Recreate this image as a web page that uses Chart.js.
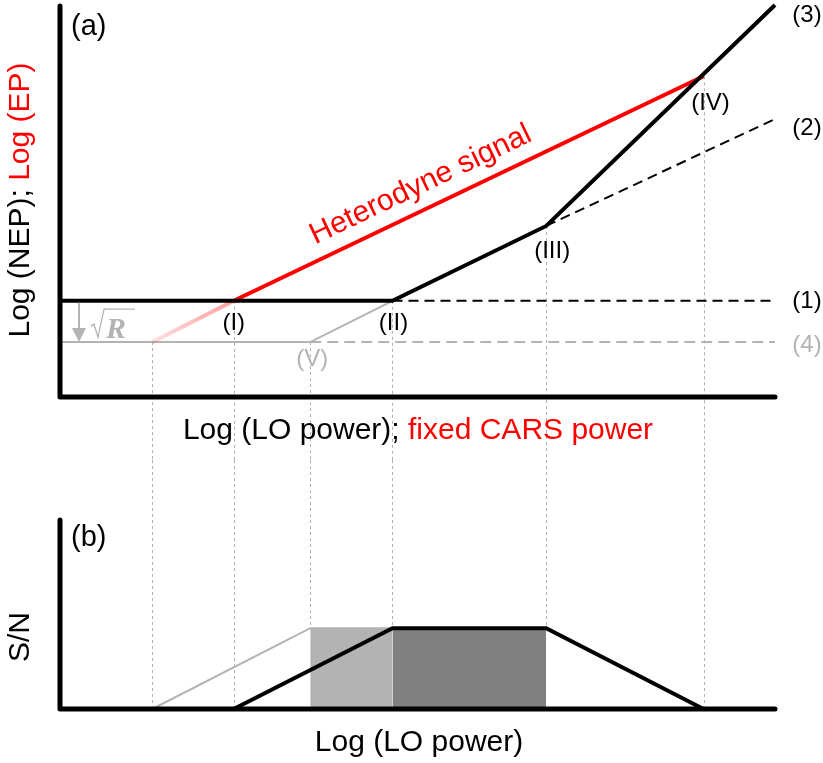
<!DOCTYPE html>
<html>
<head>
<meta charset="utf-8">
<script src="https://cdn.jsdelivr.net/npm/chart.js@4/dist/chart.umd.min.js"></script>
<style>
  html, body { margin: 0; padding: 0; background: #fff; }
  #wrap { position: relative; width: 823px; height: 763px; overflow: hidden; }
  #topChart { position: absolute; left: 0; top: 0; }
  #botChart { position: absolute; left: 0; top: 460px; }
</style>
</head>
<body>
<div id="wrap">
  <canvas id="topChart" width="823" height="460"></canvas>
  <canvas id="botChart" width="823" height="303"></canvas>
</div>
<script>
// ---- Panel (a): Log(NEP) / Log(EP) versus Log(LO power) ----
const nepCurveX = [0, 4.65, 6.8, 10.0];         // total NEP, solid black
const nepCurveY = [1.35, 1.35, 2.4, 5.5];
const floorDashX = [4.65, 10.0];                // (1) detector noise floor
const floorDashY = [1.35, 1.35];
const shotDashX = [6.8, 10.0];                  // (2) shot-noise limited
const shotDashY = [2.4, 3.9];
const reducedX = [0, 3.5, 4.65];                // reduced floor, solid grey
const reducedY = [0.77, 0.77, 1.35];
const reducedDashX = [3.5, 10.0];               // (4)
const reducedDashY = [0.77, 0.77];
const signalX = [2.43, 9.0];                    // heterodyne signal
const signalY = [1.35, 4.5];
const signalFadeX = [1.29, 2.43];
const signalFadeY = [0.77, 1.35];

const pointLabelText = ['(I)', '(II)', '(III)', '(IV)', '(V)'];
const pointLabelX = [2.43, 4.65, 6.8, 9.0, 3.5];
const pointLabelY = [1.35, 1.35, 2.4, 4.5, 0.77];
const curveLabelText = ['(1)', '(2)', '(3)', '(4)'];
const curveLabelY = [1.35, 3.9, 5.5, 0.77];

// ---- Panel (b): S/N versus Log(LO power) ----
const snrX = [2.43, 4.65, 6.8, 9.0];
const snrY = [0, 1, 1, 0];
const snrReducedX = [1.29, 3.5, 4.65];
const snrReducedY = [0, 1, 1];
const bandLightX = [3.5, 4.65];
const bandDarkX = [4.65, 6.8];
const bandLevel = [1, 1];

// Vertical guides linking both panels
const dropX = [1.29, 2.43, 3.5, 4.65, 6.8, 9.0];
const dropTopY = [0.77, 1.35, 0.77, 1.35, 2.4, 4.5];
const dropBotY = [0, 0, 1, 1, 1, 0];

const FONT = '"Liberation Sans", Arial, Helvetica, sans-serif';
const GRAY = '#b3b3b3';
const RED = '#ff0000';

const pts = (xs, ys) => xs.map((x, i) => ({ x, y: ys[i] }));

function drawMulti(ctx, parts, cx, cy, rot) {
  ctx.save();
  ctx.translate(cx, cy);
  ctx.rotate(rot);
  const widths = parts.map(p => ctx.measureText(p[0]).width);
  const total = widths.reduce((a, b) => a + b, 0);
  let x = -total / 2;
  ctx.textAlign = 'left';
  ctx.textBaseline = 'middle';
  parts.forEach((p, i) => { ctx.fillStyle = p[1]; ctx.fillText(p[0], x, 0); x += widths[i]; });
  ctx.restore();
}

function drawAxes(chart) {
  const { ctx, chartArea: a } = chart;
  ctx.save();
  ctx.strokeStyle = '#000';
  ctx.lineWidth = 5;
  ctx.lineCap = 'round';
  ctx.lineJoin = 'round';
  ctx.beginPath();
  ctx.moveTo(a.left, a.top + 1);
  ctx.lineTo(a.left, a.bottom);
  ctx.lineTo(a.right, a.bottom);
  ctx.stroke();
  ctx.restore();
}

function drawDrops(chart, ys, toBottomEdge) {
  const { ctx, scales: { x, y } } = chart;
  ctx.save();
  ctx.strokeStyle = '#b0b0b0';
  ctx.lineWidth = 1;
  ctx.setLineDash([3, 3]);
  dropX.forEach((v, i) => {
    const px = Math.round(x.getPixelForValue(v)) + 0.5;
    const py = y.getPixelForValue(ys[i]);
    ctx.beginPath();
    if (toBottomEdge) { ctx.moveTo(px, py); ctx.lineTo(px, chart.height); }
    else { ctx.moveTo(px, 0); ctx.lineTo(px, py); }
    ctx.stroke();
  });
  ctx.restore();
}

const topDecor = {
  id: 'topDecor',
  beforeDatasetsDraw(chart) { drawDrops(chart, dropTopY, true); },
  afterDatasetsDraw(chart) {
    const { ctx, chartArea: a, scales: { x, y } } = chart;
    drawAxes(chart);
    ctx.save();
    // panel tag and axis titles
    ctx.font = '29px ' + FONT;
    ctx.fillStyle = '#000';
    ctx.textAlign = 'left';
    ctx.textBaseline = 'middle';
    ctx.fillText('(a)', a.left + 11, a.top + 22);
    ctx.font = '30px ' + FONT;
    drawMulti(ctx, [['Log (NEP); ', '#000'], ['Log (EP)', RED]], 21, 200, -Math.PI / 2);
    drawMulti(ctx, [['Log (LO power); ', '#000'], ['fixed CARS power', RED]], 418, a.bottom + 34, 0);

    // label along the heterodyne signal line
    const x0 = x.getPixelForValue(signalX[0]), y0 = y.getPixelForValue(signalY[0]);
    const x1 = x.getPixelForValue(signalX[1]), y1 = y.getPixelForValue(signalY[1]);
    const ang = Math.atan2(y1 - y0, x1 - x0);
    const t = 0.42;
    const mx = x0 + (x1 - x0) * t, my = y0 + (y1 - y0) * t;
    const off = 24;
    ctx.save();
    ctx.translate(mx + Math.sin(ang) * off, my - Math.cos(ang) * off);
    ctx.rotate(ang);
    ctx.fillStyle = RED;
    ctx.textAlign = 'center';
    ctx.textBaseline = 'middle';
    ctx.fillText('Heterodyne signal', 0, 0);
    ctx.restore();

    // break-point labels
    ctx.font = '24px ' + FONT;
    ctx.textAlign = 'center';
    const offs = [[0, 23], [1, 23], [6, 25], [7, 27], [2, 17]];
    pointLabelText.forEach((s, i) => {
      ctx.fillStyle = s === '(V)' ? GRAY : '#000';
      ctx.fillText(s, x.getPixelForValue(pointLabelX[i]) + offs[i][0], y.getPixelForValue(pointLabelY[i]) + offs[i][1]);
    });
    // curve labels on the right
    const cOff = [1, 9, 10, 3];
    curveLabelText.forEach((s, i) => {
      ctx.fillStyle = s === '(4)' ? GRAY : '#000';
      ctx.fillText(s, a.right + 32, y.getPixelForValue(curveLabelY[i]) + cOff[i]);
    });

    // sqrt(R) step between the two noise floors
    const yHi = y.getPixelForValue(floorDashY[0]);
    const yLo = y.getPixelForValue(reducedDashY[0]);
    const ax = a.left + 19;
    ctx.strokeStyle = GRAY;
    ctx.fillStyle = GRAY;
    ctx.lineWidth = 2;
    ctx.beginPath();
    ctx.moveTo(ax, yHi + 2);
    ctx.lineTo(ax, yLo - 12);
    ctx.stroke();
    ctx.beginPath();
    ctx.moveTo(ax - 7, yLo - 14);
    ctx.lineTo(ax + 7, yLo - 14);
    ctx.lineTo(ax, yLo);
    ctx.closePath();
    ctx.fill();
    ctx.lineWidth = 1.3;
    ctx.lineJoin = 'miter';
    const rx = a.left + 31;
    ctx.beginPath();
    ctx.moveTo(rx, yLo - 16);
    ctx.lineTo(rx + 3, yLo - 18);
    ctx.lineTo(rx + 7, yLo - 5);
    ctx.lineTo(rx + 13, yLo - 33);
    ctx.lineTo(rx + 44, yLo - 33);
    ctx.stroke();
    ctx.font = 'italic bold 30px "Liberation Serif", "Times New Roman", serif';
    ctx.textAlign = 'left';
    ctx.textBaseline = 'alphabetic';
    ctx.fillText('R', rx + 15, yLo - 4);
    ctx.restore();
  }
};

const botDecor = {
  id: 'botDecor',
  beforeDatasetsDraw(chart) { drawDrops(chart, dropBotY, false); },
  afterDatasetsDraw(chart) {
    const { ctx, chartArea: a } = chart;
    drawAxes(chart);
    ctx.save();
    ctx.font = '29px ' + FONT;
    ctx.fillStyle = '#000';
    ctx.textAlign = 'left';
    ctx.textBaseline = 'middle';
    ctx.fillText('(b)', a.left + 11, a.top + 19);
    ctx.font = '30px ' + FONT;
    drawMulti(ctx, [['S/N', '#000']], 21, a.top + 118, -Math.PI / 2);
    drawMulti(ctx, [['Log (LO power)', '#000']], 419, a.bottom + 34, 0);
    ctx.restore();
  }
};

// pink fade on the extrapolated part of the signal line
const fadeColor = (c) => {
  const chart = c.chart;
  const x = chart.scales && chart.scales.x;
  const fallback = 'rgba(255,0,0,0.25)';
  if (!x || !chart.chartArea) return fallback;
  const p0 = x.getPixelForValue(signalFadeX[0]);
  const p1 = x.getPixelForValue(signalFadeX[1]);
  if (!isFinite(p0) || !isFinite(p1) || p0 === p1) return fallback;
  const g = chart.ctx.createLinearGradient(p0, 0, p1, 0);
  g.addColorStop(0, 'rgba(255,0,0,0.12)');
  g.addColorStop(1, 'rgba(255,0,0,0.38)');
  return g;
};

const baseOpts = (ymax, pad) => ({
  responsive: false,
  animation: false,
  events: [],
  layout: { padding: pad },
  plugins: { legend: { display: false }, tooltip: { enabled: false } },
  elements: { point: { radius: 0 }, line: { tension: 0 } },
  scales: {
    x: { type: 'linear', min: 0, max: 10, display: false },
    y: { type: 'linear', min: 0, max: ymax, display: false }
  }
});

const line = (data, color, width, extra) => Object.assign({
  data, showLine: true, borderColor: color, borderWidth: width, pointRadius: 0, fill: false, clip: 10
}, extra || {});

new Chart(document.getElementById('topChart'), {
  type: 'scatter',
  data: {
    datasets: [
      line(pts(nepCurveX, nepCurveY), '#000', 4),
      line(pts(signalX, signalY), RED, 4),
      line(pts(floorDashX, floorDashY), '#000', 2, { borderDash: [10, 6] }),
      line(pts(shotDashX, shotDashY), '#000', 2, { borderDash: [10, 6] }),
      line(pts(signalFadeX, signalFadeY), fadeColor, 4),
      line(pts(reducedX, reducedY), GRAY, 2),
      line(pts(reducedDashX, reducedDashY), GRAY, 2, { borderDash: [11, 6] })
    ]
  },
  options: baseOpts(5.5, { left: 60, right: 48, top: 5, bottom: 63 }),
  plugins: [topDecor]
});

new Chart(document.getElementById('botChart'), {
  type: 'scatter',
  data: {
    datasets: [
      line(pts(snrX, snrY), '#000', 4),
      line(pts(snrReducedX, snrReducedY), GRAY, 2),
      line(pts(bandDarkX, bandLevel), 'rgba(0,0,0,0)', 0, { fill: 'origin', backgroundColor: '#808080' }),
      line(pts(bandLightX, bandLevel), 'rgba(0,0,0,0)', 0, { fill: 'origin', backgroundColor: GRAY })
    ]
  },
  options: baseOpts(2.35, { left: 60, right: 48, top: 59, bottom: 54 }),
  plugins: [botDecor]
});
</script>
</body>
</html>
